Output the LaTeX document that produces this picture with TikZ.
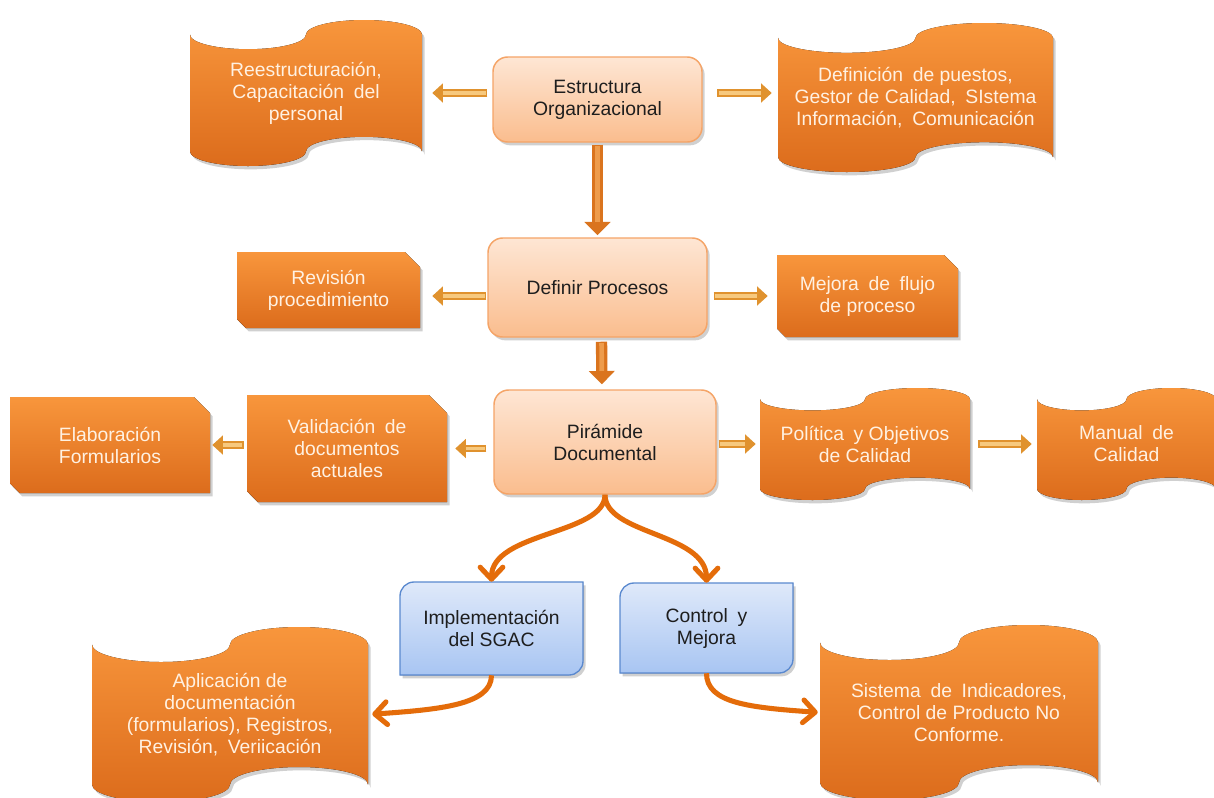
\documentclass[tikz,border=0pt]{standalone}
\usepackage{fontspec}
\setmainfont{Liberation Sans}
\usetikzlibrary{arrows.meta,shadows,calc}

\definecolor{orTop}{HTML}{F8963C}
\definecolor{orBot}{HTML}{DC6C1C}
\definecolor{orTxt}{HTML}{FFF1E2}
\definecolor{pchTop}{HTML}{FEE6D4}
\definecolor{pchBot}{HTML}{FABD8E}
\definecolor{pchLine}{HTML}{F5A467}
\definecolor{bluTop}{HTML}{DFE9FA}
\definecolor{bluBot}{HTML}{A8C5F2}
\definecolor{bluLine}{HTML}{5A89CF}
\definecolor{goldDark}{HTML}{E0922E}
\definecolor{goldLight}{HTML}{F7C97E}
\definecolor{downDark}{HTML}{DA741E}
\definecolor{downLight}{HTML}{EE9C4C}
\definecolor{curveCol}{HTML}{E46C0A}
\definecolor{txtDark}{HTML}{1E1E1E}

\tikzset{
  softshadow/.style={drop shadow={shadow xshift=2pt,shadow yshift=-2.5pt,opacity=0.3,fill=black!60}},
  orangefill/.style={top color=orTop,bottom color=orBot,softshadow},
  orangetext/.style={text=orTxt,font=\fontsize{14.5}{16.5}\selectfont,align=center,inner sep=0pt},
  peachbox/.style={rectangle,rounded corners=11pt,draw=pchLine,line width=1.1pt,
    top color=pchTop,bottom color=pchBot,softshadow,text=txtDark,
    font=\fontsize{14.5}{16.5}\selectfont,align=center},
  bluefill/.style={draw=bluLine,line width=1pt,top color=bluTop,bottom color=bluBot,softshadow},
  bluetext/.style={text=txtDark,font=\fontsize{14.5}{16.5}\selectfont,align=center,inner sep=0pt},
  goldarrow/.style 2 args={draw=goldDark,line width=5.5pt,
    -{Triangle[width=14pt,length=8pt]},shorten <=#1,shorten >=#2,
    postaction={draw=goldLight,line width=2.4pt,-,shorten <=#1+1pt,shorten >=#2+8pt}},
  downarrow/.style 2 args={draw=downDark,line width=8.5pt,
    -{Triangle[width=19pt,length=10pt]},shorten <=#1,shorten >=#2,
    postaction={draw=downLight,line width=3.5pt,-,shorten <=#1+1pt,shorten >=#2+10pt}},
  curvearrow/.style={draw=curveCol,line width=3.8pt,
    -{Straight Barb[length=9pt,width=17pt,round]}}
}

% punched-tape box: name, left, top, width, height, text
\newcommand\tapeshape[6]{%
  \fill[orangefill] (#2,#3+#5/10)
    arc[start angle=180,end angle=0,x radius=#4/4,y radius=#5/10]
    arc[start angle=180,end angle=360,x radius=#4/4,y radius=#5/10]
    -- (#2+#4,#3+#5*0.9)
    arc[start angle=0,end angle=-180,x radius=#4/4,y radius=#5/10]
    arc[start angle=0,end angle=180,x radius=#4/4,y radius=#5/10]
    -- cycle;
  \node[orangetext,minimum width=#4*0.75pt,minimum height=#5*0.6pt] (#1) at (#2+#4/2,#3+#5/2) {#6};
}
% box with snipped corners: name, left, top, width, height, snip, text
\newcommand\snipshape[7]{%
  \fill[orangefill] (#2,#3) -- (#2+#4-#6,#3) -- (#2+#4,#3+#6) -- (#2+#4,#3+#5)
    -- (#2+#6*0.6,#3+#5) -- (#2,#3+#5-#6*0.6) -- cycle;
  \node[orangetext,minimum width=#4*0.75pt,minimum height=#5*0.75pt] (#1) at (#2+#4/2,#3+#5/2) {#7};
}
% box with two rounded diagonal corners: name, left, top, width, height, text
\newcommand\blueshape[6]{%
  \filldraw[bluefill] (#2,#3+#5) -- (#2,#3+14) arc[start angle=180,end angle=270,radius=14]
    -- (#2+#4,#3) -- (#2+#4,#3+#5-14) arc[start angle=0,end angle=90,radius=14] -- cycle;
  \node[bluetext,minimum width=#4*0.75pt,minimum height=#5*0.75pt] (#1) at (#2+#4/2,#3+#5/2) {#6};
}

\begin{document}
\begin{tikzpicture}[x=0.75pt,y=-0.75pt]
\useasboundingbox (0,0) rectangle (1214,797);
\fill[white] (0,0) rectangle (1214,797);

% main column
\node[peachbox,minimum width=156.75pt,minimum height=63.75pt] (estr) at (597.5,99.5) {Estructura\\Organizacional};
\node[peachbox,minimum width=164.25pt,minimum height=74.25pt] (defp) at (597.5,287.5) {Definir Procesos};
\node[peachbox,minimum width=166.5pt,minimum height=78pt] (pir) at (605,442) {Pirámide\\Documental};

% side boxes
\tapeshape{reest}{190}{20}{232}{146}{Reestructuración,\\Capacitación\enspace del\\personal}
\tapeshape{defi}{778}{23}{275}{149}{Definición\enspace de puestos,\\Gestor de Calidad,\enspace SIstema\\Información,\enspace Comunicación}
\snipshape{rev}{237}{252}{183}{76}{15}{Revisión\\procedimiento}
\snipshape{mej}{777}{255}{181}{82}{14}{Mejora\enspace de\enspace flujo\\de proceso}
\snipshape{elab}{10}{397}{200}{96}{16}{Elaboración\\Formularios}
\snipshape{val}{247}{395}{200}{107}{18}{Validación\enspace de\\documentos\\actuales}
\tapeshape{pol}{760}{388}{210}{112}{Política\enspace y Objetivos\\de Calidad}
\tapeshape{man}{1037}{388}{179}{112}{Manual\enspace de\\Calidad}
\blueshape{impl}{400}{582}{183}{93}{Implementación\\del SGAC}
\blueshape{ctrl}{620}{583}{173}{90}{Control\enspace y\\Mejora}
\tapeshape{apl}{92}{627}{276}{175}{Aplicación de\\documentación\\(formularios), Registros,\\Revisión,\enspace Veriicación}
\tapeshape{sis}{820}{625}{278}{175}{Sistema\enspace de\enspace Indicadores,\\Control de Producto No\\Conforme.}

% horizontal connectors
\draw[goldarrow={3.75pt}{7.5pt}] (estr.west |- reest.east) -- (reest.east);
\draw[goldarrow={11pt}{4.5pt}] (estr.east |- reest.east) -- (defi.west |- reest.east);
\draw[goldarrow={0.75pt}{9pt}] (defp.west |- mej.west) -- (rev.east |- mej.west);
\draw[goldarrow={4.5pt}{6.75pt}] (defp.east |- mej.west) -- (mej.west);
\draw[goldarrow={5.25pt}{6pt}] (pir.west |- val.east) -- (val.east);
\draw[goldarrow={2.25pt}{1.5pt}] (val.west |- elab.east) -- (elab.east);
\draw[goldarrow={1.5pt}{3pt}] (pir.east |- pol.west) -- (pol.west);
\draw[goldarrow={6pt}{3.75pt}] (pol.east) -- (man.west |- pol.east);

% vertical connectors
\draw[downarrow={1.5pt}{1.5pt}] (estr.south) -- (defp.north);
\draw[downarrow={3pt}{3.75pt}] ($(defp.south)+(4,0)$) -- ($(pir.north)+(-3,0)$);

% curved connectors
\draw[curvearrow] (pir.south) .. controls +(0,40) and +(0,-50) .. (impl.north);
\draw[curvearrow] (pir.south) .. controls +(0,40) and +(0,-50) .. (ctrl.north);
\draw[curvearrow,shorten >=3pt] (impl.south) .. controls +(0,30) and +(70,-5) .. (apl.east);
\draw[curvearrow,shorten >=1.5pt] (ctrl.south) .. controls +(0,30) and +(-70,-5) .. (sis.west);
\end{tikzpicture}
\end{document}
